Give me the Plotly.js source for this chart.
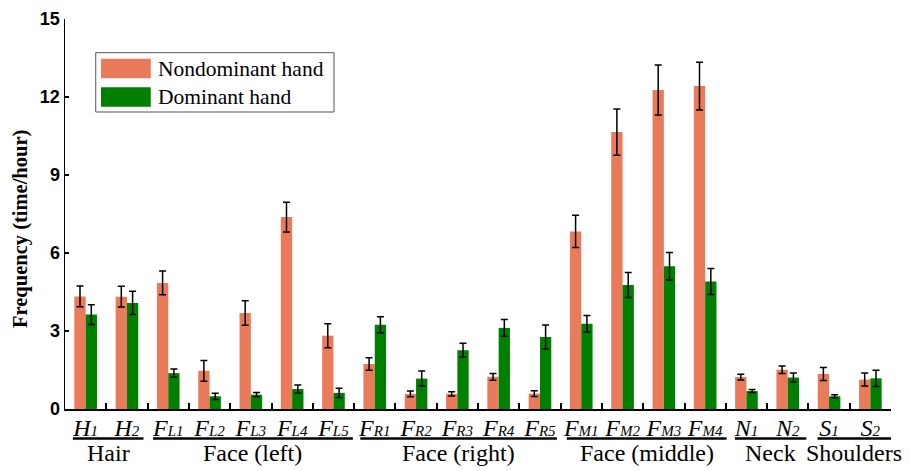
<!DOCTYPE html>
<html>
<head>
<meta charset="utf-8">
<script src="https://cdn.plot.ly/plotly-3.0.1.min.js"></script>
<style>html,body{margin:0;padding:0;background:#fff;}#chart{width:911px;height:471px;}</style>
</head>
<body>
<div id="chart"></div>
<script>
// Category tick labels: main letter and subscript
const labelMain = ['H', 'H', 'F', 'F', 'F', 'F', 'F', 'F', 'F', 'F', 'F', 'F', 'F', 'F', 'F', 'F', 'N', 'N', 'S', 'S'];
const labelSub = ['1', '2', 'L1', 'L2', 'L3', 'L4', 'L5', 'R1', 'R2', 'R3', 'R4', 'R5', 'M1', 'M2', 'M3', 'M4', '1', '2', '1', '2'];
const nondominant = [4.33, 4.32, 4.85, 1.47, 3.69, 7.38, 2.82, 1.73, 0.58, 0.58, 1.24, 0.59, 6.83, 10.65, 12.27, 12.42, 1.23, 1.51, 1.35, 1.13];
const nondominantErr = [0.40, 0.40, 0.46, 0.40, 0.47, 0.57, 0.46, 0.24, 0.11, 0.08, 0.13, 0.11, 0.62, 0.89, 0.96, 0.92, 0.11, 0.14, 0.25, 0.25];
const dominant = [3.63, 4.08, 1.38, 0.49, 0.55, 0.77, 0.62, 3.24, 1.17, 2.26, 3.12, 2.77, 3.28, 4.77, 5.49, 4.90, 0.69, 1.21, 0.49, 1.18];
const dominantErr = [0.38, 0.45, 0.16, 0.12, 0.08, 0.15, 0.18, 0.31, 0.29, 0.27, 0.32, 0.46, 0.32, 0.48, 0.53, 0.50, 0.06, 0.17, 0.06, 0.31];
const seriesNames = ['Nondominant hand', 'Dominant hand'];
const seriesColors = ['#E97B5B', '#008000'];
const yTitle = 'Frequency (time/hour)';
// Group labels with start/end category positions of their underline
const groupNames = ['Hair', 'Face (left)', 'Face (right)', 'Face (middle)', 'Neck', 'Shoulders'];
const groupStart = [-0.31, 1.63, 6.65, 11.65, 15.72, 17.72];
const groupEnd = [1.40, 6.47, 11.41, 15.52, 17.45, 19.51];

const categories = labelMain.map((m, i) =>
  '<i>' + m + '</i><span style="font-size:15px"><i>' + labelSub[i] + '</i></span>');

const serif = 'Liberation Serif, Times New Roman, serif';
const sans = 'Liberation Sans, Arial, sans-serif';

const errStyle = {type: 'data', color: '#000', thickness: 1.5, width: 3.5};
const traces = [
  {type: 'bar', name: seriesNames[0], x: categories, y: nondominant,
   marker: {color: seriesColors[0]}, error_y: Object.assign({array: nondominantErr}, errStyle), showlegend: false},
  {type: 'bar', name: seriesNames[1], x: categories, y: dominant,
   marker: {color: seriesColors[1]}, error_y: Object.assign({array: dominantErr}, errStyle), showlegend: false}
];

const shapes = [];
const annotations = [];
groupNames.forEach((g, i) => {
  shapes.push({type: 'line', xref: 'x', yref: 'paper', x0: groupStart[i], x1: groupEnd[i],
    y0: -0.0756, y1: -0.0756, line: {color: '#000', width: 2.5}});
  annotations.push({xref: 'x', yref: 'paper', x: (groupStart[i] + groupEnd[i]) / 2, y: -0.113,
    text: g, showarrow: false, xanchor: 'center', yanchor: 'middle',
    font: {family: serif, size: 24, color: '#000'}});
});
// y-axis title
annotations.push({xref: 'paper', yref: 'paper', x: -0.0539, y: 0.4628, textangle: -90,
  text: '<b>' + yTitle + '</b>', showarrow: false, xanchor: 'center', yanchor: 'middle',
  font: {family: serif, size: 20.5, color: '#000'}});
// custom legend
shapes.push({type: 'rect', xref: 'paper', yref: 'paper', x0: 0.0372, x1: 0.3257, y0: 0.7615, y1: 0.9136,
  line: {color: '#555', width: 1}, fillcolor: '#fff'});
const swY = [[0.848, 0.898], [0.775, 0.825]];
seriesNames.forEach((n, i) => {
  shapes.push({type: 'rect', xref: 'paper', yref: 'paper', x0: 0.0436, x1: 0.1038, y0: swY[i][0], y1: swY[i][1],
    line: {width: 0}, fillcolor: seriesColors[i]});
  annotations.push({xref: 'paper', yref: 'paper', x: 0.110, y: (swY[i][0] + swY[i][1]) / 2, text: n,
    showarrow: false, xanchor: 'left', yanchor: 'middle', font: {family: serif, size: 21.5, color: '#000'}});
});

const layout = {
  width: 911, height: 471,
  margin: {l: 65, r: 20, t: 19, b: 62},
  paper_bgcolor: '#fff', plot_bgcolor: '#fff',
  barmode: 'group', bargap: 0.452, bargroupgap: 0,
  showlegend: false,
  xaxis: {
    type: 'category', range: [-0.5, 19.5], showline: true, linecolor: '#000', linewidth: 2,
    ticks: 'inside', tickson: 'boundaries', ticklen: 6, tickwidth: 2, tickcolor: '#000',
    tickangle: 0, automargin: false, ticklabelstandoff: -4,
    showgrid: false, zeroline: false,
    tickfont: {family: serif, size: 24, color: '#000'}
  },
  yaxis: {
    range: [0, 15], dtick: 3, tick0: 0, showline: true, linecolor: '#000', linewidth: 1.5,
    ticks: 'inside', ticklen: 4, tickwidth: 1.5, tickcolor: '#000',
    showgrid: false, zeroline: false, automargin: false,
    tickfont: {family: sans, size: 18, color: '#000', weight: 'bold'}
  },
  shapes: shapes,
  annotations: annotations
};

Plotly.newPlot('chart', traces, layout, {displayModeBar: false, staticPlot: true});
</script>
</body>
</html>
